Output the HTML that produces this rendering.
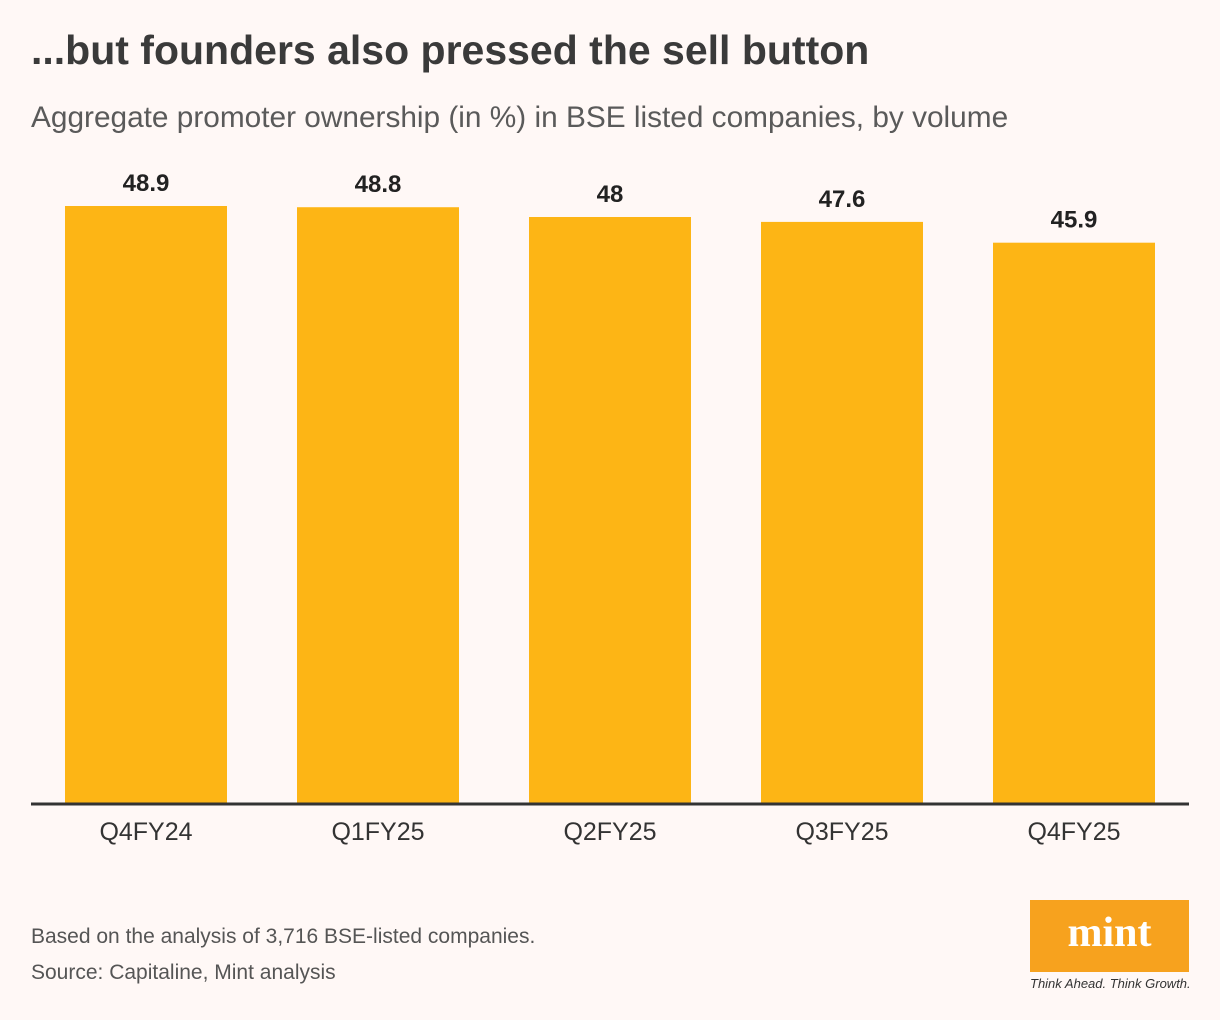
<!DOCTYPE html>
<html><head><meta charset="utf-8">
<style>
body{margin:0;background:#fff8f6;}
#root{position:relative;width:1220px;height:1020px;background:#fff8f6;font-family:"Liberation Sans",sans-serif;overflow:hidden}
.title{position:absolute;left:31px;top:27px;font-size:41px;font-weight:bold;color:#3a3a3a;letter-spacing:0px}
.sub{position:absolute;left:31px;top:101px;font-size:29.8px;color:#5a5a5a}
.note{position:absolute;left:31px;font-size:21px;color:#555}
</style></head><body>
<div id="root">
<div class="title">...but founders also pressed the sell button</div>
<div class="sub">Aggregate promoter ownership (in %) in BSE listed companies, by volume</div>
<svg id="chart" width="1220" height="1020" style="position:absolute;left:0;top:0"></svg>
<div class="note" style="top:925px">Based on the analysis of 3,716 BSE-listed companies.</div>
<div class="note" style="top:961px">Source: Capitaline, Mint analysis</div>
<div style="position:absolute;left:1030px;top:900px;width:159px;height:72px;background:#f7a21e;color:#fff;font-family:'Liberation Serif',serif;font-weight:bold;font-size:42px;text-align:center;line-height:66px">mint</div>
<div style="position:absolute;left:1030px;top:976px;width:162px;font-size:13px;font-style:italic;color:#333;white-space:nowrap">Think Ahead. Think Growth.</div>
</div>
<script>
const categories=["Q4FY24","Q1FY25","Q2FY25","Q3FY25","Q4FY25"];
const values=[48.9,48.8,48,47.6,45.9];
const labels=["48.9","48.8","48","47.6","45.9"];
const svg=document.getElementById('chart');
const NS='http://www.w3.org/2000/svg';
const baseY=804, pxPerUnit=598/48.9, x0=65, pitch=232, bw=162;
function y(v){return baseY-v*pxPerUnit;}
function x(i){return x0+i*pitch;}
categories.forEach((c,i)=>{
  const r=document.createElementNS(NS,'rect');
  r.setAttribute('x',x(i));r.setAttribute('y',y(values[i]));
  r.setAttribute('width',bw);r.setAttribute('height',baseY-y(values[i]));
  r.setAttribute('fill','#fdb515');
  
  
  svg.appendChild(r);
  const t=document.createElementNS(NS,'text');
  t.setAttribute('x',x(i)+bw/2);t.setAttribute('y',y(values[i])-15);
  t.setAttribute('text-anchor','middle');t.setAttribute('font-size','24');t.setAttribute('font-weight','bold');t.setAttribute('fill','#222');
  t.textContent=labels[i];
  
  
  svg.appendChild(t);
  const l=document.createElementNS(NS,'text');
  l.setAttribute('x',x(i)+bw/2);l.setAttribute('y',840);
  l.setAttribute('text-anchor','middle');l.setAttribute('font-size','25');l.setAttribute('fill','#333');
  l.textContent=c;
  
  
  svg.appendChild(l);
});
const ax=document.createElementNS(NS,'line');
ax.setAttribute('x1',31);ax.setAttribute('x2',1189);ax.setAttribute('y1',baseY);ax.setAttribute('y2',baseY);
ax.setAttribute('stroke','#333');ax.setAttribute('stroke-width','3');


svg.appendChild(ax);
</script>
</body></html>
